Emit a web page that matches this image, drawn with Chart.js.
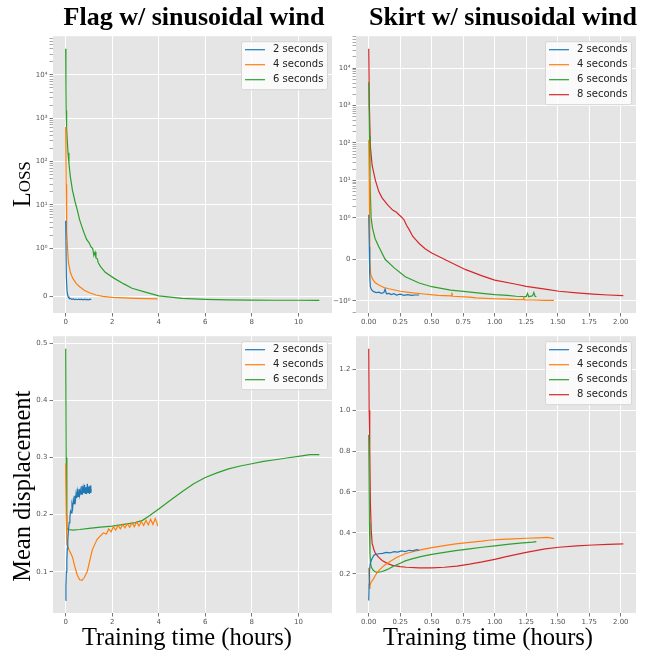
<!DOCTYPE html>
<html>
<head>
<meta charset="utf-8">
<script src="https://cdn.jsdelivr.net/npm/chart.js@4.4.1/dist/chart.umd.min.js"></script>
<style>
  body { margin: 0; background: #fff; }
  #fig { position: relative; width: 657px; height: 651px; overflow: hidden; }
  #fig canvas { position: absolute; }
  .lbl { position: absolute; font-family: "Liberation Serif", serif; color: #000; white-space: nowrap; text-align: center; }
  .title { font-size: 26px; font-weight: bold; line-height: 26px; }
  .axl { font-size: 24.5px; line-height: 24.5px; }
  .rot { transform: rotate(-90deg); }
</style>
</head>
<body>
<div id="fig">
  <canvas id="flagLoss"></canvas>
  <canvas id="skirtLoss"></canvas>
  <canvas id="flagDisp"></canvas>
  <canvas id="skirtDisp"></canvas>
  <div class="lbl title" style="left:44px;top:4px;width:300px">Flag w/ sinusoidal wind</div>
  <div class="lbl title" style="left:353px;top:4px;width:300px">Skirt w/ sinusoidal wind</div>
  <div class="lbl axl rot" style="left:-78px;top:172px;width:200px;font-variant:small-caps">Loss</div>
  <div class="lbl axl rot" style="left:-108px;top:474px;width:260px">Mean displacement</div>
  <div class="lbl axl" style="left:37px;top:625px;width:300px">Training time (hours)</div>
  <div class="lbl axl" style="left:338px;top:625px;width:300px">Training time (hours)</div>
</div>
<script>
var seriesLabels = ['2 seconds', '4 seconds', '6 seconds', '8 seconds'];
var seriesColors = ['#1f77b4', '#ff7f0e', '#2ca02c', '#d62728'];

// flag, loss
var flagLossT2 = [0, 0.01, 0.03, 0.06, 0.1, 0.14, 0.2, 0.26, 0.32, 0.38, 0.44, 0.5, 0.56, 0.62, 0.68, 0.74, 0.8, 0.86, 0.92, 0.98, 1.04, 1.1];
var flagLoss2 = [4.3, 1.5, 0.4, 0.1, 0.0, -0.03, -0.045, -0.06, -0.05, -0.065, -0.055, -0.068, -0.056, -0.066, -0.058, -0.07, -0.057, -0.066, -0.06, -0.069, -0.058, -0.065];
var flagLossT4 = [0, 0.01, 0.02, 0.035, 0.05, 0.08, 0.12, 0.2, 0.3, 0.45, 0.6, 0.8, 1.0, 1.3, 1.6, 2.0, 2.5, 3.0, 3.5, 3.95];
var flagLoss4 = [630, 120, 30, 6, 2.5, 1.0, 0.7, 0.5, 0.38, 0.27, 0.2, 0.13, 0.08, 0.03, 0.0, -0.02, -0.03, -0.04, -0.045, -0.05];
var flagLossT6 = [0, 0.01, 0.02, 0.04, 0.07, 0.1, 0.14, 0.2, 0.29, 0.4, 0.5, 0.6, 0.71, 0.8, 0.9, 1.0, 1.1, 1.16, 1.21, 1.26, 1.3, 1.36, 1.4, 1.5, 1.7, 2.07, 2.5, 2.85, 3.5, 4.0, 5.0, 6.0, 7.0, 8.0, 9.0, 10.0, 10.9];
var flagLoss6 = [40000, 5000, 1500, 600, 300, 160, 90, 45, 22, 12, 7.6, 4.5, 3.0, 2.2, 1.6, 1.35, 1.05, 1.0, 0.85, 0.92, 0.8, 0.78, 0.7, 0.62, 0.5, 0.38, 0.26, 0.17, 0.08, 0.01, -0.04, -0.06, -0.07, -0.075, -0.08, -0.08, -0.083];

// skirt, loss
var skirtLossT2 = [0, 0.004, 0.008, 0.013, 0.02, 0.03, 0.04, 0.06, 0.08, 0.1, 0.12, 0.13, 0.14, 0.16, 0.18, 0.2, 0.22, 0.25, 0.28, 0.31, 0.34, 0.37, 0.4];
var skirtLoss2 = [1.2, 0.3, -0.4, -0.66, -0.72, -0.76, -0.78, -0.8, -0.79, -0.82, -0.8, -0.72, -0.83, -0.82, -0.85, -0.83, -0.86, -0.84, -0.87, -0.85, -0.87, -0.86, -0.86];
var skirtLossT4 = [0, 0.003, 0.006, 0.01, 0.015, 0.027, 0.05, 0.08, 0.12, 0.16, 0.25, 0.35, 0.42, 0.55, 0.655, 0.66, 0.665, 0.8, 0.85, 1.0, 1.1, 1.17, 1.225, 1.23, 1.235, 1.3, 1.4, 1.47];
var skirtLoss4 = [120, 10, 1.3, 0.0, -0.35, -0.46, -0.56, -0.62, -0.68, -0.71, -0.77, -0.81, -0.83, -0.87, -0.88, -0.8, -0.89, -0.91, -0.93, -0.95, -0.96, -0.97, -0.97, -0.89, -0.98, -0.98, -0.99, -0.99];
var skirtLossT6 = [0, 0.005, 0.01, 0.019, 0.03, 0.05, 0.08, 0.13, 0.2, 0.29, 0.4, 0.5, 0.65, 0.77, 0.9, 1.0, 1.1, 1.17, 1.25, 1.26, 1.27, 1.3, 1.31, 1.32, 1.33];
var skirtLoss6 = [4200, 150, 10, 1.0, 0.75, 0.5, 0.3, 0.0, -0.2, -0.42, -0.57, -0.66, -0.74, -0.78, -0.82, -0.85, -0.87, -0.89, -0.9, -0.82, -0.9, -0.88, -0.8, -0.89, -0.9];
var skirtLossT8 = [0, 0.005, 0.013, 0.027, 0.053, 0.08, 0.106, 0.15, 0.19, 0.22, 0.24, 0.26, 0.28, 0.3, 0.32, 0.35, 0.38, 0.4, 0.45, 0.5, 0.58, 0.68, 0.77, 0.9, 1.0, 1.17, 1.25, 1.4, 1.51, 1.65, 1.78, 1.9, 2.02];
var skirtLoss8 = [33000, 1000, 80, 25, 10, 5, 3.4, 2.2, 1.6, 1.4, 1.2, 1.05, 0.95, 0.82, 0.72, 0.55, 0.45, 0.38, 0.25, 0.15, 0.03, -0.12, -0.25, -0.4, -0.5, -0.6, -0.65, -0.72, -0.77, -0.81, -0.84, -0.86, -0.875];

// flag, mean displacement
var flagDispT2 = [0, 0.01, 0.03, 0.05, 0.07, 0.09, 0.12, 0.15, 0.18, 0.21, 0.24, 0.27, 0.3, 0.33, 0.36, 0.39, 0.42, 0.45, 0.48, 0.51, 0.54, 0.57, 0.6, 0.63, 0.66, 0.69, 0.72, 0.75, 0.78, 0.81, 0.84, 0.87, 0.9, 0.93, 0.96, 0.99, 1.02, 1.05, 1.08, 1.1];
var flagDisp2 = [0.05, 0.075, 0.1, 0.12, 0.14, 0.155, 0.172, 0.186, 0.195, 0.206, 0.203, 0.218, 0.212, 0.226, 0.219, 0.233, 0.225, 0.238, 0.229, 0.241, 0.232, 0.245, 0.234, 0.243, 0.236, 0.25, 0.235, 0.247, 0.238, 0.252, 0.237, 0.248, 0.236, 0.254, 0.239, 0.249, 0.236, 0.251, 0.238, 0.244];
var flagDispT4 = [0, 0.02, 0.05, 0.15, 0.29, 0.4, 0.5, 0.6, 0.7, 0.8, 0.93, 1.05, 1.14, 1.25, 1.35, 1.5, 1.62, 1.75, 1.85, 1.95, 2.05, 2.15, 2.25, 2.35, 2.45, 2.55, 2.65, 2.75, 2.85, 2.95, 3.05, 3.15, 3.25, 3.35, 3.45, 3.55, 3.65, 3.75, 3.85, 3.92, 3.95];
var flagDisp4 = [0.29, 0.2, 0.148, 0.138, 0.126, 0.108, 0.094, 0.086, 0.085, 0.09, 0.101, 0.122, 0.138, 0.148, 0.157, 0.163, 0.168, 0.166, 0.175, 0.17, 0.179, 0.173, 0.181, 0.175, 0.183, 0.177, 0.184, 0.178, 0.186, 0.179, 0.187, 0.18, 0.188, 0.181, 0.19, 0.182, 0.192, 0.183, 0.193, 0.186, 0.18];
var flagDispT6 = [0, 0.02, 0.05, 0.1, 0.3, 0.6, 1.0, 1.5, 2.0, 2.5, 3.0, 3.3, 3.6, 4.0, 4.5, 5.0, 5.5, 6.0, 6.5, 7.0, 7.5, 8.0, 8.5, 9.0, 9.5, 10.0, 10.5, 10.9];
var flagDisp6 = [0.49, 0.3, 0.176, 0.174, 0.173, 0.174, 0.176, 0.178, 0.18, 0.183, 0.186, 0.19, 0.198, 0.21, 0.225, 0.24, 0.254, 0.265, 0.273, 0.28, 0.285, 0.289, 0.293, 0.296, 0.299, 0.302, 0.305, 0.305];

// skirt, mean displacement
var skirtDispT2 = [0, 0.003, 0.006, 0.012, 0.02, 0.027, 0.04, 0.053, 0.08, 0.11, 0.14, 0.17, 0.2, 0.23, 0.26, 0.29, 0.32, 0.35, 0.38, 0.4];
var skirtDisp2 = [0.07, 0.15, 0.216, 0.25, 0.265, 0.275, 0.29, 0.295, 0.298, 0.3, 0.305, 0.302, 0.308, 0.306, 0.312, 0.309, 0.315, 0.312, 0.318, 0.315];
var skirtDispT4 = [0, 0.005, 0.01, 0.02, 0.04, 0.06, 0.08, 0.12, 0.16, 0.22, 0.29, 0.35, 0.42, 0.5, 0.6, 0.69, 0.8, 0.9, 0.95, 1.05, 1.15, 1.25, 1.35, 1.42, 1.47];
var skirtDisp4 = [0.23, 0.13, 0.145, 0.16, 0.178, 0.2, 0.216, 0.24, 0.257, 0.28, 0.298, 0.308, 0.318, 0.328, 0.338, 0.346, 0.354, 0.36, 0.364, 0.368, 0.371, 0.374, 0.376, 0.378, 0.372];
var skirtDispT6 = [0, 0.005, 0.01, 0.015, 0.021, 0.035, 0.05, 0.067, 0.1, 0.13, 0.16, 0.2, 0.25, 0.29, 0.35, 0.42, 0.5, 0.6, 0.69, 0.8, 0.9, 1.0, 1.1, 1.2, 1.3, 1.33];
var skirtDisp6 = [0.88, 0.45, 0.3, 0.25, 0.232, 0.218, 0.21, 0.207, 0.21, 0.217, 0.225, 0.238, 0.252, 0.263, 0.274, 0.285, 0.295, 0.305, 0.313, 0.322, 0.33, 0.337, 0.344, 0.35, 0.355, 0.357];
var skirtDispT8 = [0, 0.003, 0.008, 0.013, 0.02, 0.027, 0.04, 0.053, 0.08, 0.106, 0.15, 0.19, 0.25, 0.3, 0.4, 0.5, 0.6, 0.7, 0.8, 0.9, 1.0, 1.1, 1.25, 1.4, 1.51, 1.65, 1.78, 1.9, 2.02];
var skirtDisp8 = [1.3, 1.0, 0.83, 0.55, 0.41, 0.35, 0.32, 0.3, 0.28, 0.265, 0.25, 0.241, 0.235, 0.232, 0.229, 0.229, 0.232, 0.238, 0.247, 0.258, 0.271, 0.285, 0.305, 0.322, 0.33, 0.337, 0.341, 0.344, 0.346];

// ticks
var flagXTicks = [0, 2, 4, 6, 8, 10];
var skirtXTicks = [0, 0.25, 0.5, 0.75, 1, 1.25, 1.5, 1.75, 2];
var flagLossTicks = [0, 1, 10, 100, 1000, 10000];
var skirtLossTicks = [-1, 0, 1, 10, 100, 1000, 10000];
var flagDispTicks = [0.1, 0.2, 0.3, 0.4, 0.5];
var skirtDispTicks = [0.2, 0.4, 0.6, 0.8, 1.0, 1.2];

// symlog like matplotlib, linthresh 1, linscale 1
var LIN = 1 / (1 - 1 / 10);
function symT(v) {
    var a = Math.abs(v);
    var t = a <= 1 ? a * LIN : LIN + Math.log10(a);
    return v < 0 ? -t : t;
}
function symInv(t) {
    var a = Math.abs(t);
    var v = a <= LIN ? a / LIN : Math.pow(10, a - LIN);
    return t < 0 ? -v : v;
}

class SymlogScale extends Chart.Scale {
    determineDataLimits() {
        var mm = this.getMinMax(false);
        this.min = this.options.min !== undefined ? this.options.min : mm.min;
        this.max = this.options.max !== undefined ? this.options.max : mm.max;
    }
    buildTicks() { return []; }
    configure() {
        super.configure();
        this._t0 = symT(this.min);
        this._t1 = symT(this.max);
    }
    getPixelForValue(v) {
        return this.getPixelForDecimal((symT(v) - this._t0) / (this._t1 - this._t0));
    }
    getValueForPixel(p) {
        return symInv(this._t0 + this.getDecimalForPixel(p) * (this._t1 - this._t0));
    }
    getLabelForValue(v) { return String(v); }
}
SymlogScale.id = 'symlog';
SymlogScale.defaults = {};
Chart.register(SymlogScale);

var SUP = { '0': '\u2070', '1': '\u00b9', '2': '\u00b2', '3': '\u00b3', '4': '\u2074', '5': '\u2075' };
function symLabel(v) {
    if (v === 0) return '0';
    var e = Math.round(Math.log10(Math.abs(v)));
    return (v < 0 ? '\u2212' : '') + '10' + SUP[e];
}

// 5% margins like matplotlib, in the axis' own space
function limits(arrays, fwd, inv) {
    var lo = Infinity, hi = -Infinity;
    arrays.forEach(function(a) { a.forEach(function(v) { lo = Math.min(lo, fwd(v)); hi = Math.max(hi, fwd(v)); }); });
    var m = (hi - lo) * 0.05;
    return { min: inv(lo - m), max: inv(hi + m) };
}
var ident = function(v) { return v; };

var areaBg = {
    id: 'areaBg',
    beforeDraw: function(chart) {
        var a = chart.chartArea, ctx = chart.ctx;
        ctx.save();
        ctx.fillStyle = '#e5e5e5';
        ctx.fillRect(a.left, a.top, a.right - a.left, a.bottom - a.top);
        ctx.restore();
    }
};

var boxLegend = {
    id: 'boxLegend',
    afterDatasetsDraw: function(chart) {
        var ctx = chart.ctx, a = chart.chartArea;
        var sets = chart.data.datasets;
        var w = 86, h = sets.length * 15 + 3;
        var x0 = a.right - 5 - w, y0 = a.top + 5;
        ctx.save();
        ctx.beginPath();
        ctx.roundRect(x0 + 0.5, y0 + 0.5, w, h, 2);
        ctx.fillStyle = 'rgba(255,255,255,0.8)';
        ctx.fill();
        ctx.strokeStyle = '#d6d6d6';
        ctx.lineWidth = 1;
        ctx.stroke();
        ctx.font = '10px "DejaVu Sans"';
        ctx.textBaseline = 'middle';
        sets.forEach(function(ds, i) {
            var y = y0 + 8.5 + 15 * i;
            ctx.beginPath();
            ctx.moveTo(x0 + 4, y);
            ctx.lineTo(x0 + 24, y);
            ctx.strokeStyle = ds.borderColor;
            ctx.lineWidth = 1.2;
            ctx.stroke();
            ctx.fillStyle = '#222';
            ctx.fillText(ds.label, x0 + 32, y);
        });
        ctx.restore();
    }
};

function makeSets(ts, ys) {
    return ts.map(function(t, k) {
        return {
            label: seriesLabels[k],
            data: t.map(function(x, i) { return { x: x, y: ys[k][i] }; }),
            borderColor: seriesColors[k],
            borderWidth: 1.2,
            pointRadius: 0,
            tension: 0,
            fill: false
        };
    });
}

function panel(id, box, area, ts, ys, xTicks, xFmt, yType, yTicks, yFmt) {
    var canvas = document.getElementById(id);
    canvas.width = box.w; canvas.height = box.h;
    canvas.style.left = box.l + 'px'; canvas.style.top = box.t + 'px';
    canvas.style.width = box.w + 'px'; canvas.style.height = box.h + 'px';

    var xl = limits(ts, ident, ident);
    var yl = yType === 'symlog' ? limits(ys, symT, symInv) : limits(ys, ident, ident);
    var major = {};
    yTicks.forEach(function(v) { major[v] = true; });
    var yAll = yTicks.slice();
    if (yType === 'symlog') {
        for (var k = 0; k < 6; k++) {
            for (var m = 2; m <= 9; m++) {
                [m * Math.pow(10, k), -m * Math.pow(10, k)].forEach(function(v) {
                    if (v >= yl.min && v <= yl.max) yAll.push(v);
                });
            }
        }
        yAll.sort(function(a, b) { return a - b; });
    }
    var tickFont = { family: 'DejaVu Sans', size: 7 };

    return new Chart(canvas, {
        type: 'line',
        data: { datasets: makeSets(ts, ys) },
        options: {
            responsive: false,
            animation: false,
            events: [],
            layout: { padding: { left: 0, top: area.t - box.t, right: box.l + box.w - area.r, bottom: 0 } },
            plugins: { legend: { display: false }, tooltip: { enabled: false } },
            scales: {
                x: {
                    type: 'linear',
                    min: xl.min,
                    max: xl.max,
                    afterBuildTicks: function(s) { s.ticks = xTicks.map(function(v) { return { value: v }; }); },
                    afterFit: function(s) { s.height = box.t + box.h - area.b; },
                    border: { display: false },
                    grid: { color: '#ffffff', lineWidth: 1, tickLength: 3.5, tickColor: '#555555', tickWidth: 0.8 },
                    ticks: { autoSkip: false, maxRotation: 0, padding: 1, color: '#555555', font: tickFont, callback: xFmt }
                },
                y: {
                    type: yType,
                    min: yl.min,
                    max: yl.max,
                    afterBuildTicks: function(s) { s.ticks = yAll.map(function(v) { return { value: v, minor: !major[v] }; }); },
                    afterFit: function(s) { s.width = area.l - box.l; },
                    border: { display: false },
                    grid: {
                        color: function(c) { return c.tick && c.tick.minor ? 'rgba(0,0,0,0)' : '#ffffff'; },
                        lineWidth: 1,
                        tickLength: 3.5,
                        tickColor: '#555555',
                        tickWidth: function(c) { return c.tick && c.tick.minor ? 0.5 : 0.8; }
                    },
                    ticks: {
                        autoSkip: false, padding: 2, color: '#555555', font: tickFont,
                        callback: function(v) { return major[v] ? yFmt(v) : ''; }
                    }
                }
            }
        },
        plugins: [areaBg, boxLegend]
    });
}

var intFmt = function(v) { return String(v); };
var fix2 = function(v) { return v.toFixed(2); };
var fix1 = function(v) { return v.toFixed(1); };

panel('flagLoss', { l: 0, t: 30, w: 345, h: 300 }, { l: 53, t: 36, r: 332, b: 313 },
    [flagLossT2, flagLossT4, flagLossT6], [flagLoss2, flagLoss4, flagLoss6],
    flagXTicks, intFmt, 'symlog', flagLossTicks, symLabel);
panel('skirtLoss', { l: 310, t: 30, w: 345, h: 300 }, { l: 356, t: 36, r: 636, b: 313 },
    [skirtLossT2, skirtLossT4, skirtLossT6, skirtLossT8], [skirtLoss2, skirtLoss4, skirtLoss6, skirtLoss8],
    skirtXTicks, fix2, 'symlog', skirtLossTicks, symLabel);
panel('flagDisp', { l: 0, t: 330, w: 345, h: 300 }, { l: 53, t: 335, r: 332, b: 613 },
    [flagDispT2, flagDispT4, flagDispT6], [flagDisp2, flagDisp4, flagDisp6],
    flagXTicks, intFmt, 'linear', flagDispTicks, fix1);
panel('skirtDisp', { l: 310, t: 330, w: 345, h: 300 }, { l: 356, t: 335, r: 636, b: 613 },
    [skirtDispT2, skirtDispT4, skirtDispT6, skirtDispT8], [skirtDisp2, skirtDisp4, skirtDisp6, skirtDisp8],
    skirtXTicks, fix2, 'linear', skirtDispTicks, fix1);
</script>
</body>
</html>
